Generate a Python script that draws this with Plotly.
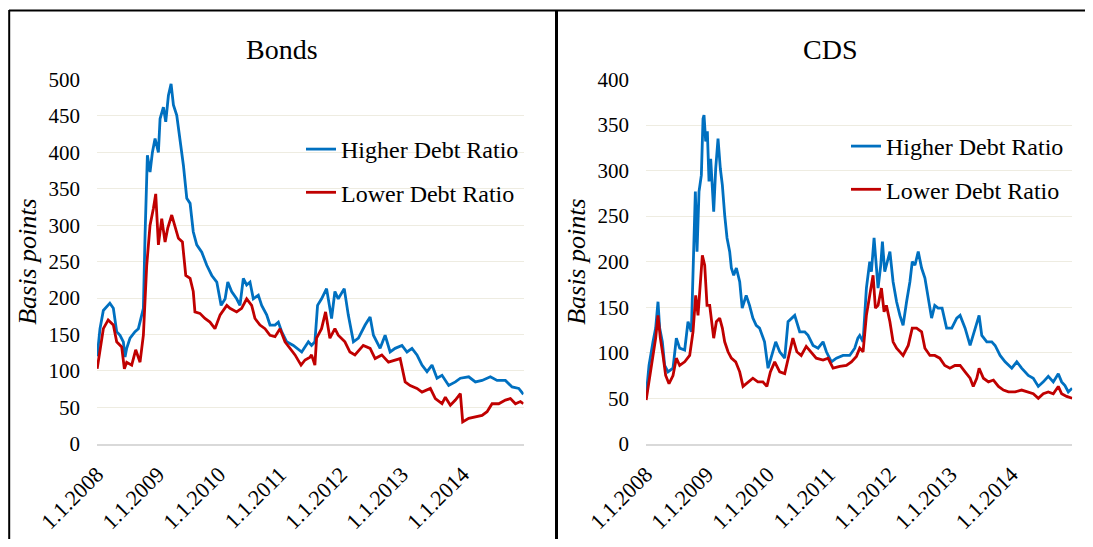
import plotly.graph_objects as go

# ---------------- data ----------------
series_names = ["Higher Debt Ratio", "Lower Debt Ratio"]
panel_titles = ["Bonds", "CDS"]
y_title = "Basis points"
tick_dates = ["2008-01-01", "2009-01-01", "2010-01-01", "2011-01-01",
              "2012-01-01", "2013-01-01", "2014-01-01"]
tick_labels = ["1.1.2008", "1.1.2009", "1.1.2010", "1.1.2011",
               "1.1.2012", "1.1.2013", "1.1.2014"]

bonds_high_dates = [
    "2008-01-02", "2008-01-19", "2008-02-08", "2008-03-18", "2008-04-08", "2008-04-28", "2008-05-18", "2008-06-07", "2008-06-17", "2008-06-27",
    "2008-07-17", "2008-08-16", "2008-09-05", "2008-09-15", "2008-10-05", "2008-10-15", "2008-10-29", "2008-11-14", "2008-11-28", "2008-12-14",
    "2009-01-03", "2009-01-13", "2009-02-02", "2009-02-16", "2009-03-04", "2009-03-20", "2009-04-03", "2009-04-23", "2009-05-13", "2009-06-02",
    "2009-06-22", "2009-07-12", "2009-07-31", "2009-08-21", "2009-09-20", "2009-10-20", "2009-11-19", "2009-12-19", "2010-01-14", "2010-02-07",
    "2010-02-23", "2010-03-18", "2010-04-17", "2010-05-07", "2010-05-27", "2010-06-16", "2010-07-06", "2010-07-26", "2010-08-25", "2010-09-14",
    "2010-10-14", "2010-11-03", "2010-12-03", "2010-12-23", "2011-01-12", "2011-02-11", "2011-03-23", "2011-05-12", "2011-06-21", "2011-07-10",
    "2011-07-30", "2011-08-15", "2011-09-08", "2011-10-08", "2011-11-07", "2011-11-27", "2011-12-17", "2012-01-22", "2012-02-15", "2012-03-17",
    "2012-04-16", "2012-05-26", "2012-06-25", "2012-07-15", "2012-08-24", "2012-09-23", "2012-10-23", "2012-11-22", "2013-01-02", "2013-02-01",
    "2013-03-03", "2013-04-02", "2013-05-02", "2013-06-01", "2013-07-01", "2013-07-31", "2013-08-30", "2013-10-09", "2013-11-18", "2013-12-18",
    "2014-02-06", "2014-03-18", "2014-04-27", "2014-06-16", "2014-07-26", "2014-09-14", "2014-10-24", "2014-12-03", "2014-12-31"]
bonds_high = [
    120, 158, 183, 193, 186, 154, 149, 140, 119, 131,
    145, 154, 158, 167, 186, 286, 396, 373, 400, 419,
    400, 446, 462, 442, 478, 494, 465, 451, 419, 382,
    337, 330, 291, 273, 263, 245, 231, 222, 190, 199,
    222, 209, 199, 190, 227, 218, 222, 199, 204, 190,
    177, 163, 163, 167, 154, 140, 135, 126, 140, 135,
    140, 190, 199, 213, 172, 209, 199, 213, 177, 140,
    145, 163, 174, 149, 131, 149, 126, 131, 135, 126,
    131, 122, 108, 99, 108, 90, 94, 80, 85, 90,
    92, 85, 87, 92, 87, 87, 78, 76, 68]

bonds_low_dates = [
    "2008-01-02", "2008-01-19", "2008-02-08", "2008-03-08", "2008-04-08", "2008-04-28", "2008-05-28", "2008-06-13", "2008-06-27", "2008-07-27",
    "2008-08-20", "2008-09-15", "2008-10-05", "2008-10-25", "2008-11-14", "2008-12-04", "2008-12-18", "2009-01-03", "2009-01-23", "2009-02-12",
    "2009-02-28", "2009-03-24", "2009-04-13", "2009-05-03", "2009-05-27", "2009-06-16", "2009-07-12", "2009-07-31", "2009-08-10", "2009-09-09",
    "2009-10-09", "2009-11-08", "2009-12-08", "2010-01-08", "2010-02-17", "2010-03-08", "2010-04-17", "2010-05-17", "2010-06-16", "2010-07-16",
    "2010-08-05", "2010-09-04", "2010-10-04", "2010-11-03", "2010-12-03", "2011-01-02", "2011-02-01", "2011-03-03", "2011-04-02", "2011-05-08",
    "2011-06-01", "2011-07-01", "2011-07-10", "2011-07-30", "2011-08-09", "2011-09-08", "2011-10-02", "2011-10-28", "2011-11-27", "2011-12-17",
    "2012-01-26", "2012-02-25", "2012-03-26", "2012-05-15", "2012-06-25", "2012-07-25", "2012-09-03", "2012-10-13", "2012-11-22", "2012-12-22",
    "2013-01-21", "2013-02-20", "2013-04-02", "2013-05-02", "2013-06-21", "2013-07-21", "2013-08-30", "2013-09-19", "2013-10-19", "2013-11-18",
    "2013-12-18", "2014-01-01", "2014-02-06", "2014-03-18", "2014-04-27", "2014-05-27", "2014-06-26", "2014-08-05", "2014-09-14", "2014-10-14",
    "2014-11-13", "2014-12-13", "2014-12-31"]
bonds_low = [
    103, 131, 158, 170, 163, 140, 133, 103, 112, 108,
    129, 112, 149, 245, 300, 323, 343, 273, 309, 277,
    296, 314, 296, 282, 277, 231, 227, 209, 181, 179,
    172, 167, 158, 177, 190, 186, 181, 186, 199, 190,
    172, 163, 158, 149, 147, 158, 140, 131, 122, 108,
    115, 119, 122, 108, 145, 158, 181, 145, 158, 149,
    140, 126, 122, 135, 131, 117, 122, 112, 115, 117,
    85, 80, 76, 71, 76, 62, 55, 64, 53, 60,
    69, 30, 35, 37, 39, 44, 55, 55, 60, 62,
    55, 58, 55]

cds_high_dates = [
    "2008-01-02", "2008-01-19", "2008-02-12", "2008-02-28", "2008-03-13", "2008-03-23", "2008-04-08", "2008-04-22", "2008-05-12", "2008-06-11",
    "2008-07-01", "2008-07-21", "2008-08-20", "2008-09-09", "2008-09-29", "2008-10-13", "2008-10-23", "2008-11-02", "2008-11-14", "2008-11-28",
    "2008-12-08", "2008-12-14", "2008-12-24", "2009-01-03", "2009-01-13", "2009-01-23", "2009-02-02", "2009-02-10", "2009-02-22", "2009-03-08",
    "2009-03-22", "2009-04-03", "2009-04-17", "2009-05-01", "2009-05-17", "2009-05-27", "2009-06-10", "2009-06-26", "2009-07-16", "2009-07-31",
    "2009-08-24", "2009-09-13", "2009-10-03", "2009-10-23", "2009-11-12", "2009-12-12", "2010-01-02", "2010-01-22", "2010-02-17", "2010-03-13",
    "2010-04-12", "2010-05-02", "2010-05-22", "2010-06-11", "2010-07-11", "2010-08-10", "2010-08-30", "2010-09-29", "2010-10-29", "2010-11-28",
    "2010-12-18", "2011-01-17", "2011-02-16", "2011-03-28", "2011-05-07", "2011-06-06", "2011-06-25", "2011-07-06", "2011-07-26", "2011-08-15",
    "2011-09-04", "2011-09-14", "2011-09-30", "2011-10-14", "2011-10-24", "2011-11-09", "2011-11-19", "2011-12-03", "2011-12-19", "2012-01-03",
    "2012-01-22", "2012-02-12", "2012-03-03", "2012-03-22", "2012-04-12", "2012-05-02", "2012-05-16", "2012-06-01", "2012-06-21", "2012-07-11",
    "2012-07-31", "2012-08-19", "2012-09-09", "2012-09-28", "2012-10-18", "2012-11-11", "2012-12-08", "2013-01-08", "2013-02-07", "2013-02-27",
    "2013-03-29", "2013-04-28", "2013-05-17", "2013-06-21", "2013-07-07", "2013-08-06", "2013-09-05", "2013-09-25", "2013-10-25", "2013-11-24",
    "2014-01-03", "2014-02-02", "2014-03-03", "2014-04-12", "2014-05-12", "2014-06-11", "2014-07-11", "2014-08-10", "2014-09-09", "2014-10-09",
    "2014-10-29", "2014-11-18", "2014-12-08", "2014-12-31"]
cds_high = [
    53, 86, 112, 127, 156, 127, 112, 86, 79, 83,
    116, 105, 103, 134, 123, 222, 277, 211, 277, 295,
    357, 361, 332, 343, 288, 313, 280, 255, 302, 335,
    302, 284, 251, 226, 211, 193, 185, 193, 178, 149,
    163, 152, 138, 130, 127, 112, 83, 97, 112, 101,
    94, 134, 138, 141, 123, 123, 119, 108, 105, 112,
    101, 90, 94, 97, 97, 105, 116, 119, 112, 171,
    200, 189, 226, 189, 171, 196, 222, 189, 200, 211,
    178, 156, 141, 130, 156, 178, 200, 196, 211, 193,
    182, 163, 138, 152, 149, 149, 127, 127, 138, 141,
    127, 108, 119, 141, 119, 112, 112, 108, 97, 90,
    83, 90, 83, 75, 72, 63, 68, 74, 68, 77,
    68, 64, 57, 61]

cds_low_dates = [
    "2008-01-02", "2008-01-23", "2008-02-12", "2008-02-28", "2008-03-13", "2008-03-27", "2008-04-12", "2008-04-28", "2008-05-18", "2008-06-11",
    "2008-07-01", "2008-07-21", "2008-08-20", "2008-09-19", "2008-10-09", "2008-10-25", "2008-11-08", "2008-11-22", "2008-12-04", "2008-12-18",
    "2009-01-01", "2009-01-17", "2009-01-27", "2009-02-10", "2009-02-26", "2009-03-18", "2009-04-03", "2009-04-17", "2009-05-07", "2009-05-27",
    "2009-06-22", "2009-07-16", "2009-08-05", "2009-09-04", "2009-10-03", "2009-11-02", "2009-12-02", "2009-12-26", "2010-01-16", "2010-02-11",
    "2010-03-13", "2010-04-12", "2010-05-07", "2010-05-31", "2010-06-24", "2010-07-20", "2010-08-19", "2010-09-18", "2010-10-18", "2010-11-28",
    "2010-12-28", "2011-01-27", "2011-03-08", "2011-04-17", "2011-05-17", "2011-06-16", "2011-07-06", "2011-07-26", "2011-08-15", "2011-09-04",
    "2011-09-24", "2011-10-08", "2011-10-24", "2011-11-13", "2011-11-29", "2011-12-13", "2012-01-03", "2012-01-22", "2012-02-12", "2012-03-03",
    "2012-03-22", "2012-04-22", "2012-05-16", "2012-06-11", "2012-07-11", "2012-07-31", "2012-08-30", "2012-09-28", "2012-10-28", "2012-11-27",
    "2012-12-28", "2013-01-27", "2013-02-27", "2013-03-29", "2013-04-28", "2013-05-17", "2013-06-07", "2013-06-21", "2013-07-17", "2013-08-16",
    "2013-09-15", "2013-10-15", "2013-11-14", "2013-12-14", "2014-01-23", "2014-03-03", "2014-04-02", "2014-05-12", "2014-06-11", "2014-07-11",
    "2014-08-10", "2014-09-09", "2014-10-09", "2014-10-29", "2014-11-28", "2014-12-31"]
cds_low = [
    48, 72, 97, 116, 141, 116, 97, 75, 66, 75,
    94, 86, 90, 97, 123, 163, 141, 178, 207, 196,
    152, 152, 134, 116, 134, 138, 127, 112, 101, 94,
    90, 79, 63, 68, 72, 68, 68, 63, 79, 90,
    79, 77, 97, 116, 101, 97, 107, 101, 94, 92,
    94, 83, 85, 86, 90, 96, 105, 101, 141, 163,
    185, 149, 152, 171, 145, 152, 134, 112, 105, 101,
    97, 108, 127, 127, 123, 105, 97, 97, 94, 86,
    83, 86, 86, 79, 72, 63, 72, 83, 72, 68,
    70, 63, 59, 57, 57, 59, 57, 55, 50, 55,
    57, 55, 63, 55, 52, 50]

# ---------------- style ----------------
# the page body has an 8px margin, so the figure is drawn 8px in from the
# window's top-left corner; positions below are window pixels shifted by it
OFF = 8
W, H = 1093 - OFF, 547 - 2 * OFF
FONT = "Liberation Serif, Times New Roman, serif"
BLUE = "#0070C0"
RED = "#C00000"
GRID = "#EEECE1"
AXIS = "#D9D9D9"


def px_x(v):
    return (v - OFF) / W


def px_y(v):
    return 1 - (v - OFF) / H


fig = go.Figure()

panels = [
    ("x", "y", "legend", bonds_high_dates, bonds_high, bonds_low_dates, bonds_low, "b"),
    ("x2", "y2", "legend2", cds_high_dates, cds_high, cds_low_dates, cds_low, "c"),
]
for xa, ya, lg, hd, hv, ld, lv, key in panels:
    fig.add_trace(go.Scatter(x=hd, y=hv, mode="lines", name=series_names[0],
                             line=dict(color=BLUE, width=2.8), xaxis=xa, yaxis=ya,
                             legend=lg, legendgroup=key + "h"))
    fig.add_trace(go.Scatter(x=ld, y=lv, mode="lines", name=series_names[1],
                             line=dict(color=RED, width=2.8), xaxis=xa, yaxis=ya,
                             legend=lg, legendgroup=key + "l"))

xcommon = dict(type="date", range=["2008-01-01", "2015-01-01"], tickmode="array",
               tickvals=tick_dates, ticktext=tick_labels, tickangle=-45,
               tickfont=dict(family=FONT, size=22, color="black"), ticks="",
               showgrid=False, zeroline=False, showline=True, linecolor=AXIS,
               linewidth=2, automargin=False, ticklabelstandoff=7, fixedrange=True)
ycommon = dict(dtick=50, tickfont=dict(family=FONT, size=21, color="black"),
               ticks="", showgrid=True, gridcolor=GRID, gridwidth=1,
               zeroline=False, showline=False, automargin=False,
               ticklabelstandoff=16, fixedrange=True,
               title=dict(text=y_title, standoff=4,
                          font=dict(family=FONT, size=26, color="black", style="italic")))
ydom = [px_y(443.8), px_y(79.5)]

fig.update_layout(
    width=W, height=H,
    margin=dict(l=0, r=0, t=0, b=0),
    paper_bgcolor="white", plot_bgcolor="white",
    xaxis=dict(domain=[px_x(97), px_x(523.6)], anchor="y", **xcommon),
    xaxis2=dict(domain=[px_x(646), px_x(1072.3)], anchor="y2", **xcommon),
    yaxis=dict(domain=ydom, range=[0, 500], anchor="x", **ycommon),
    yaxis2=dict(domain=ydom, range=[0, 400], anchor="x2", **ycommon),
    legend=dict(x=px_x(301), y=px_y(127), xanchor="left", yanchor="top",
                bgcolor="rgba(0,0,0,0)", font=dict(family=FONT, size=24, color="black"),
                traceorder="grouped", tracegroupgap=9),
    legend2=dict(x=px_x(846), y=px_y(124), xanchor="left", yanchor="top",
                 bgcolor="rgba(0,0,0,0)", font=dict(family=FONT, size=24, color="black"),
                 traceorder="grouped", tracegroupgap=9),
    annotations=[
        dict(text=panel_titles[0], x=px_x(282), y=px_y(49), xref="paper", yref="paper",
             showarrow=False, xanchor="center", yanchor="middle",
             font=dict(family=FONT, size=28, color="black")),
        dict(text=panel_titles[1], x=px_x(830), y=px_y(49), xref="paper", yref="paper",
             showarrow=False, xanchor="center", yanchor="middle",
             font=dict(family=FONT, size=28, color="black")),
    ],
    shapes=[
        dict(type="line", xref="paper", yref="paper", x0=px_x(9), x1=1, y0=px_y(10.5), y1=px_y(10.5),
             line=dict(color="black", width=2)),
        dict(type="line", xref="paper", yref="paper", x0=px_x(9.2), x1=px_x(9.2), y0=0, y1=px_y(10),
             line=dict(color="black", width=2)),
        dict(type="line", xref="paper", yref="paper", x0=px_x(556.5), x1=px_x(556.5), y0=0, y1=px_y(10),
             line=dict(color="black", width=3)),
    ],
)

fig.write_html("out.html")
